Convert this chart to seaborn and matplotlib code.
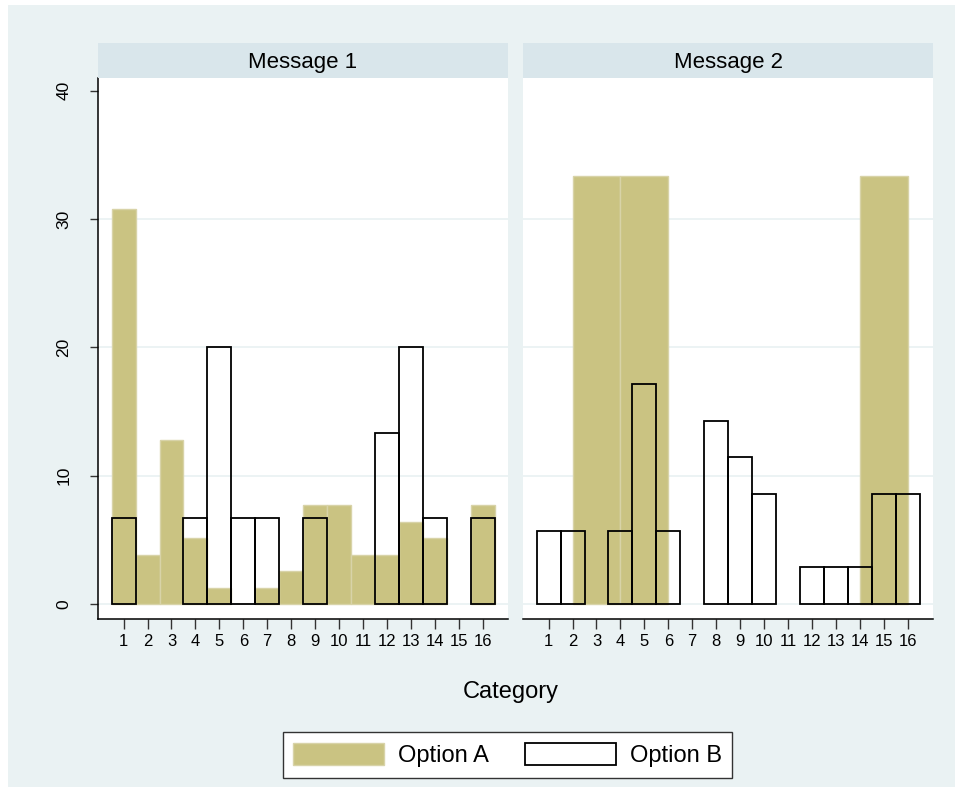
import numpy as np
import pandas as pd
import matplotlib
matplotlib.use("Agg")
import matplotlib.pyplot as plt
from matplotlib.patches import Patch, Rectangle
import seaborn as sns

# ---------------- data ----------------
categories = list(range(1, 17))
tick_labels = [str(c) for c in categories]
# Message 1
a1 = [30.77, 3.85, 12.82, 5.13, 1.28, 0.0, 1.28, 2.56, 7.69, 7.69, 3.85, 3.85, 6.41, 5.13, 0.0, 7.69]
b1 = [6.67, 0.0, 0.0, 6.67, 20.0, 6.67, 6.67, 0.0, 6.67, 0.0, 0.0, 13.33, 20.0, 6.67, 0.0, 6.67]
# Message 2 (Option A is binned in width-2 bins)
a2_bin_centers = [3, 5, 15]
a2 = [33.33, 33.33, 33.33]
b2 = [5.71, 5.71, 0.0, 5.71, 17.14, 5.71, 0.0, 14.29, 11.43, 8.57, 0.0, 2.86, 2.86, 2.86, 8.57, 8.57]
panel_titles = ["Message 1", "Message 2"]
series_names = ["Option A", "Option B"]
y_ticks = [0, 10, 20, 30, 40]

# ---------------- style ----------------
sns.set_style("white")
plt.rcParams["font.family"] = ["Liberation Sans", "DejaVu Sans"]
plt.rcParams["text.color"] = "black"
plt.rcParams["xtick.color"] = "black"
plt.rcParams["ytick.color"] = "black"
plt.rcParams["axes.labelcolor"] = "black"

W, H = 955, 787
BG = "#EAF2F3"
STRIP = "#D9E6EB"
KHAKI = "#CAC382"
KHAKI_EDGE = "#D8D3A8"

fig = plt.figure(figsize=(W / 100, H / 100), dpi=100, facecolor="white")
fig.patches.append(Rectangle((8 / W, 0), 1, 1 - 5 / H, transform=fig.transFigure,
                             facecolor=BG, edgecolor="none", zorder=-10))

def fx(px):
    return px / W

def fy(py):
    return 1 - py / H

top, bottom = 78, 619
lefts = [98, 523]
width = 410
axes = []
for i, l in enumerate(lefts):
    ax = fig.add_axes([fx(l), fy(bottom), width / W, (bottom - top) / H])
    axes.append(ax)
    sax = fig.add_axes([fx(l), fy(top), width / W, 35 / H])
    sax.set_facecolor(STRIP)
    sax.set_xticks([]); sax.set_yticks([])
    for s in sax.spines.values():
        s.set_visible(False)
    sax.text(0.5, 0.45, panel_titles[i], ha="center", va="center", fontsize=16,
             color="black", transform=sax.transAxes)

bins1 = [c - 0.5 for c in categories] + [categories[-1] + 0.5]
bins2 = list(range(2, 17, 2))

data_a = [pd.DataFrame({"x": categories, "w": a1}),
          pd.DataFrame({"x": a2_bin_centers, "w": a2})]
bins_a = [bins1, bins2]
data_b = [pd.DataFrame({"x": categories, "w": b1}),
          pd.DataFrame({"x": categories, "w": b2})]

for i, ax in enumerate(axes):
    sns.histplot(data=data_a[i], x="x", weights="w", bins=bins_a[i], ax=ax, color=KHAKI,
                 alpha=1, edgecolor=KHAKI_EDGE, linewidth=1.0, zorder=2)
    sns.histplot(data=data_b[i], x="x", weights="w", bins=bins1, ax=ax, fill=False,
                 color="black", linewidth=1.3, zorder=3)
    # empty bins are not drawn
    for p in ax.patches:
        if abs(p.get_height()) < 1e-9:
            p.set_visible(False)
    ax.set_xlim(-0.07, 17.06)
    ax.set_ylim(-1.17, 41.0)
    ax.set_xlabel("")
    ax.set_ylabel("")
    ax.set_facecolor("white")
    ax.set_axisbelow(True)
    ax.set_xticks(categories)
    ax.set_xticklabels(tick_labels, fontsize=12, color="black")
    ax.set_yticks(y_ticks)
    for y in y_ticks[:-1]:
        ax.axhline(y, color=BG, lw=1.3, zorder=0)
    ax.tick_params(axis="x", direction="out", length=7, width=1, color="#333333",
                   pad=4, bottom=True)
    for s in ["top", "right"]:
        ax.spines[s].set_visible(False)
    ax.spines["bottom"].set_linewidth(1.1)
    ax.spines["bottom"].set_color("black")
    if i == 0:
        ax.spines["left"].set_linewidth(1.1)
        ax.spines["left"].set_color("black")
        ax.set_yticklabels([str(v) for v in y_ticks], fontsize=12.5, rotation=90,
                           va="center", color="black")
        ax.tick_params(axis="y", direction="out", length=6, width=1, color="#333333",
                       pad=13, left=True)
    else:
        ax.spines["left"].set_visible(False)
        ax.tick_params(axis="y", left=False, labelleft=False)

fig.text(fx(511), fy(692), "Category", ha="center", va="center", fontsize=17,
         color="black")

handles = [Patch(facecolor=KHAKI, edgecolor=KHAKI_EDGE, linewidth=1.0),
           Patch(facecolor="white", edgecolor="black", linewidth=1.3)]
leg = fig.legend(handles, series_names, loc="center", bbox_to_anchor=(fx(507.5), fy(755)),
                 ncol=2, fontsize=17, frameon=True, fancybox=False, handlelength=3.85,
                 handleheight=1.1, handletextpad=0.6, columnspacing=1.5,
                 borderpad=0.45, borderaxespad=0)
for t in leg.get_texts():
    t.set_color("black")
leg.get_frame().set_edgecolor("#333333")
leg.get_frame().set_linewidth(1.0)
leg.get_frame().set_facecolor("white")
leg.get_frame().set_alpha(1)

fig.savefig("out.png", dpi=100, facecolor=fig.get_facecolor())
